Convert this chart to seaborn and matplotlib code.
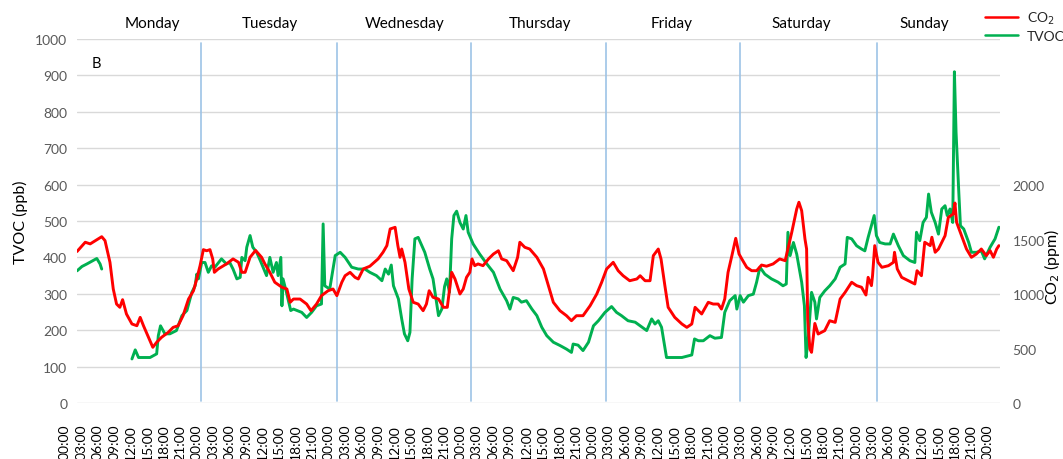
import numpy as np
import pandas as pd
import matplotlib
matplotlib.use("Agg")
import matplotlib.pyplot as plt
import matplotlib.transforms as mtransforms
from matplotlib.lines import Line2D
import seaborn as sns

# week starts Monday 00:00, x in hours
days = ["Monday", "Tuesday", "Wednesday", "Thursday", "Friday", "Saturday", "Sunday"]
day_label_hours = [13.8, 35.1, 59.7, 84.3, 108.3, 131.9, 154.3]
divider_hours = [22.6, 47.3, 71.7, 96.3, 120.7, 145.6]
tick_hours = list(range(0, 169, 3))
tick_labels = ["%02d:00" % (h % 24) for h in tick_hours]

co2_hours = [0.0, 1.5, 2.4, 4.5, 5.1, 6.0, 6.6, 7.2, 7.8, 8.3, 9.0, 10.0, 10.9, 11.5, 12.1,
             13.0, 13.8, 14.5, 15.4, 16.6, 17.5, 18.4, 19.3, 20.3, 21.2, 21.8, 22.4, 23.0,
             23.6, 24.2, 24.7, 25.0, 25.7, 27.2, 28.4, 29.4, 30.0, 30.6, 31.5, 32.5, 33.6,
             34.2, 35.1, 36.0, 37.3, 38.2, 38.8, 39.4, 40.6, 41.8, 42.6, 43.6, 44.5, 45.7,
             46.6, 47.3, 48.2, 48.8, 49.7, 50.6, 51.2, 52.1, 53.3, 54.8, 55.7, 56.4, 57.0,
             57.9, 58.4, 58.8, 59.1, 59.7, 60.4, 61.2, 62.1, 63.0, 63.6, 64.1, 64.8, 65.8,
             66.7, 67.4, 68.2, 68.8, 69.7, 70.3, 70.9, 71.5, 71.9, 72.4, 73.0, 73.9, 74.9,
             75.8, 76.7, 77.3, 78.2, 79.4, 80.2, 80.6, 81.5, 82.4, 83.7, 84.9, 85.8, 86.7,
             87.9, 89.1, 90.0, 90.9, 92.1, 93.4, 94.6, 95.5, 96.4, 97.6, 98.5, 99.4, 100.6,
             101.9, 102.5, 103.4, 104.3, 104.9, 105.8, 106.3, 107.0, 107.6, 108.8, 110.1,
             111.0, 111.9, 112.5, 113.7, 114.9, 115.8, 116.7, 117.3, 117.9, 118.5, 119.2,
             119.9, 120.5, 121.0, 121.9, 122.8, 123.7, 124.6, 125.5, 126.7, 127.9, 128.9,
             130.1, 131.0, 131.4, 131.9, 132.5, 132.8, 133.0, 133.4, 133.7, 134.3, 134.9,
             136.1, 137.0, 138.0, 138.9, 139.8, 141.0, 141.9, 142.8, 143.6, 144.0, 144.6,
             144.8, 145.2, 145.8, 146.5, 147.7, 148.6, 148.8, 149.3, 150.1, 151.3, 152.5,
             152.9, 153.7, 154.3, 155.3, 155.6, 156.2, 156.8, 157.4, 158.0, 158.6, 159.5,
             159.8, 160.1, 161.0, 161.9, 162.8, 163.7, 164.6, 165.5, 166.2, 166.8, 167.4, 167.8]
co2_ppm = [1390, 1475, 1460, 1526, 1490, 1291, 1046, 908, 878, 948, 817, 725, 709, 786, 709,
           603, 511, 557, 603, 648, 694, 709, 801, 954, 1030, 1138, 1260, 1407,
           1397, 1407, 1322, 1199, 1230, 1276, 1322, 1291, 1199, 1199, 1337, 1400, 1337,
           1276, 1199, 1108, 1062, 1046, 924, 954, 954, 908, 847, 908, 985, 1030,
           1046, 985, 1108, 1168, 1199, 1153, 1138, 1230, 1255, 1322, 1383, 1444, 1597,
           1612, 1444, 1337, 1413, 1291, 1046, 924, 908, 847, 908, 1030, 970, 954,
           878, 878, 1199, 1138, 1000, 1046, 1153, 1199, 1322, 1260, 1276, 1260, 1322,
           1367, 1397, 1322, 1306, 1214, 1337, 1475, 1429, 1413, 1337, 1230, 1077, 924,
           847, 801, 755, 801, 801, 893, 1000, 1108, 1230, 1291, 1214, 1168, 1122,
           1138, 1168, 1122, 1122, 1352, 1413, 1322, 1077, 878, 786, 725,
           694, 725, 878, 817, 924, 908, 908, 862, 954, 1199, 1352,
           1511, 1367, 1322, 1245, 1214, 1214, 1266, 1255, 1276, 1322, 1306,
           1567, 1780, 1842, 1765, 1505, 1413, 771, 495, 465, 730, 633,
           664, 755, 740, 954, 1015, 1108, 1077, 1062, 991, 1153, 1077,
           1168, 1444, 1291, 1245, 1260, 1291, 1383, 1230, 1153, 1122, 1092,
           1214, 1168, 1475, 1444, 1521, 1383, 1413, 1475, 1535, 1704, 1735,
           1835, 1658, 1535, 1413, 1337, 1367, 1413, 1352, 1398, 1337, 1413, 1444]

# nan marks the gap in the TVOC record on Monday morning
tvoc_hours = [0.0, 0.9, 1.8, 3.6, 4.2, 4.5, 7.0, 10.0, 10.6, 11.2, 13.3, 14.5, 14.8, 15.2,
              16.0, 16.9, 18.1, 19.1, 20.0, 20.9, 21.5, 21.8, 22.1, 22.7, 23.3, 23.9, 24.5,
              25.1, 26.3, 27.2, 27.8, 28.4, 29.1, 29.7, 30.0, 30.6, 30.9, 31.5, 32.0, 32.7,
              33.4, 34.5, 35.1, 35.7, 36.3, 36.6, 37.1, 37.3, 37.5, 38.2, 38.9, 39.4, 40.9,
              41.8, 42.7, 43.6, 44.5, 44.8, 45.1, 46.0, 46.6, 47.0, 47.9, 48.8, 50.0, 51.2,
              52.4, 53.3, 54.5, 55.5, 56.1, 56.7, 57.2, 57.6, 58.5, 59.1, 59.6, 60.2, 60.6,
              61.0, 61.5, 62.1, 63.3, 64.2, 64.8, 65.8, 66.4, 66.9, 67.3, 67.8, 68.2, 68.6,
              69.1, 69.7, 70.3, 70.8, 71.2, 72.1, 73.3, 74.6, 75.8, 77.0, 78.2, 78.8, 79.4,
              80.3, 80.9, 81.8, 82.8, 83.7, 84.6, 85.5, 86.7, 87.9, 89.1, 90.0, 90.3, 91.2,
              92.1, 93.1, 94.0, 94.9, 96.1, 97.3, 98.2, 99.1, 100.3, 101.6, 103.7, 104.6,
              105.2, 105.8, 106.4, 107.3, 110.1, 111.9, 112.4, 113.1, 114.0, 115.2, 116.1,
              117.3, 117.9, 118.8, 119.8, 120.1, 120.7, 121.3, 122.2, 123.1, 123.7, 124.3,
              125.2, 126.4, 127.6, 128.5, 129.1, 129.4, 129.8, 130.4, 131.0, 131.9, 132.4,
              132.7, 133.1, 133.7, 134.3, 134.6, 135.2, 136.1, 137.0, 138.0, 138.9, 139.8,
              140.2, 141.0, 141.9, 142.8, 143.4, 144.0, 145.1, 145.5, 146.1, 147.1, 148.0,
              148.6, 149.5, 150.4, 151.6, 152.5, 152.8, 153.4, 154.0, 154.6, 155.0, 155.5,
              156.2, 156.8, 157.4, 158.0, 158.4, 158.9, 159.4, 159.7, 160.0, 160.5, 160.8,
              161.4, 162.3, 162.8, 163.7, 164.6, 165.2, 166.2, 167.1, 167.8]
tvoc_ppb = [363, 375, 382, 397, 382, 368, np.nan, 121, 146, 125, 125, 135, 185, 212,
            190, 190, 199, 240, 254, 304, 322, 354, 341, 386, 386, 359, 377,
            373, 396, 382, 386, 368, 341, 345, 400, 391, 428, 460, 428, 414,
            390, 350, 400, 359, 386, 350, 400, 267, 341, 299, 254, 258, 249,
            235, 249, 267, 272, 492, 322, 313, 368, 405, 414, 400, 373, 368,
            368, 359, 350, 336, 368, 354, 379, 322, 286, 231, 190, 171, 194,
            341, 451, 455, 414, 368, 341, 240, 258, 320, 341, 304, 451, 515,
            527, 496, 478, 515, 469, 437, 409, 382, 359, 313, 281, 258, 290,
            286, 277, 281, 258, 240, 208, 185, 167, 158, 148, 139, 162, 159,
            144, 167, 212, 226, 249, 265, 249, 240, 226, 222, 199, 231,
            217, 226, 208, 125, 125, 132, 176, 171, 171, 185, 178,
            180, 249, 281, 295, 258, 295, 277, 295, 299, 332, 373,
            354, 341, 332, 322, 327, 469, 405, 441, 409, 332, 267,
            125, 176, 304, 277, 231, 290, 308, 322, 341, 373, 382,
            455, 451, 432, 423, 418, 455, 515, 460, 441, 437, 437,
            464, 432, 405, 391, 386, 469, 446, 496, 510, 574, 524,
            496, 464, 533, 542, 515, 533, 496, 910, 744, 579, 487,
            478, 441, 414, 414, 418, 396, 428, 451, 483]

co2 = pd.DataFrame({"hour": co2_hours, "ppm": co2_ppm})
tvoc = pd.DataFrame({"hour": tvoc_hours, "ppb": tvoc_ppb})
tvoc["segment"] = tvoc["ppb"].isna().cumsum()
tvoc = tvoc.dropna()

sns.set_theme(style="white")
plt.rcParams["font.family"] = ["Lato", "DejaVu Sans"]

grey = "#595959"
red = "#ff0000"
green = "#00b050"

fig = plt.figure(figsize=(10.63, 4.6), dpi=100)
ax = fig.add_axes([77 / 1063, 56 / 460, 923 / 1063, 364 / 460])

for h in divider_hours:
    ax.axvline(h, ymin=0.005, ymax=0.99, color="#9dc3e6", lw=1.2, zorder=1)

sns.lineplot(data=tvoc, x="hour", y="ppb", units="segment", estimator=None,
             color=green, lw=2.1, ax=ax, zorder=3)
ax.set_xlim(0, 168)
ax.set_ylim(0, 1000)
ax.set_yticks(range(0, 1001, 100))
ax.yaxis.grid(True, color="#d9d9d9", lw=1)
ax.xaxis.grid(False)
for s in ax.spines.values():
    s.set_visible(False)
ax.set_xticks(tick_hours)
ax.set_xticklabels(tick_labels, rotation=90, fontsize=10, color="black")
ax.tick_params(axis="x", length=0, pad=15)
ax.tick_params(axis="y", length=0, pad=7, labelsize=10, labelcolor=grey)
ax.set_xlabel("")
ax.set_ylabel("")
offset = mtransforms.ScaledTranslation(-0.12, 0, fig.dpi_scale_trans)
for lab in ax.get_xticklabels():
    lab.set_transform(lab.get_transform() + offset)

ax2 = ax.twinx()
sns.lineplot(data=co2, x="hour", y="ppm", color=red, lw=2.1, ax=ax2, estimator=None)
ax2.set_ylim(0, 3340)
ax2.set_yticks(range(0, 2001, 500))
ax2.tick_params(axis="y", length=0, pad=9, labelsize=10, labelcolor=grey)
ax2.set_ylabel("")
for s in ax2.spines.values():
    s.set_visible(False)
ax2.grid(False)

for d, h in zip(days, day_label_hours):
    ax.text(h, 1.044, d, transform=ax.get_xaxis_transform(), ha="center", va="center",
            fontsize=11, color="black")

ax.text((92 - 77) / 923, (404 - 64) / 364, "B", transform=ax.transAxes, ha="left",
        va="center", fontsize=10.5, color="black")

fig.text(20 / 1063, 1 - 222 / 460, "TVOC (ppb)", rotation=90, ha="center", va="center",
         fontsize=11.5, color="black")
fig.text(1052 / 1063, 1 - 267 / 460, "CO$_2$ (ppm)", rotation=90, ha="center", va="center",
         fontsize=11.5, color="black")

handles = [Line2D([], [], color=red, lw=1.8), Line2D([], [], color=green, lw=1.8)]
fig.legend(handles, ["CO$_2$", "TVOC"], loc="upper left",
           bbox_to_anchor=(985 / 1063, 1 - 11 / 460), frameon=False, fontsize=10,
           handlelength=2.4, handletextpad=0.6, labelspacing=0.25, borderpad=0,
           borderaxespad=0)

fig.savefig("out.png", dpi=100)
